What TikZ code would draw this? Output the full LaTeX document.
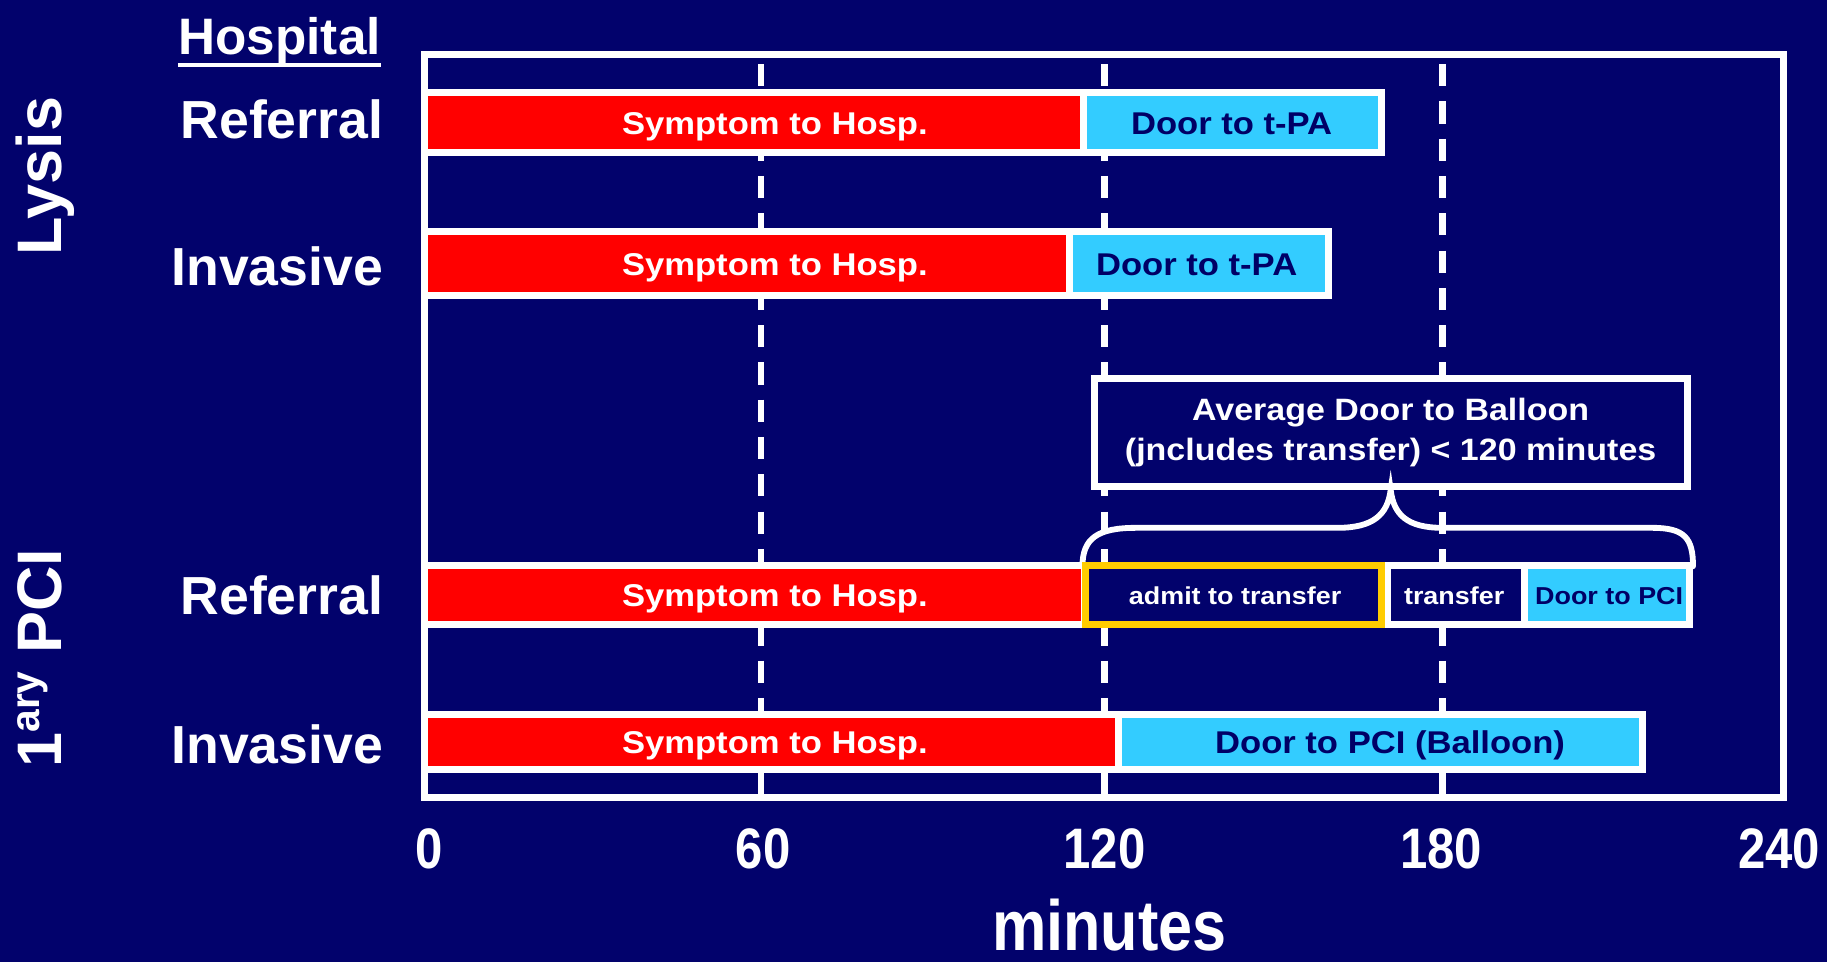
\documentclass[tikz,border=0pt]{standalone}
\usepackage{fontspec}
\setmainfont{Liberation Sans}
\newfontfamily\wideF{Liberation Sans}[FakeStretch=1.1]
\newfontfamily\narrowF{Liberation Sans}[FakeStretch=0.86]
\usetikzlibrary{calc}
\definecolor{bgnavy}{RGB}{2,2,108}
\definecolor{barred}{RGB}{255,0,0}
\definecolor{barcyan}{RGB}{51,204,255}
\definecolor{txtnavy}{RGB}{0,0,102}
\definecolor{hlyellow}{RGB}{255,204,0}
\tikzset{
  seg/.style={draw=white, line width=6pt, inner sep=0pt},
  redseg/.style={seg, fill=barred},
  cyanseg/.style={seg, fill=barcyan},
  navyseg/.style={seg, fill=bgnavy},
  barlab/.style={anchor=base, inner sep=0pt, font=\wideF\bfseries\fontsize{27}{27}\selectfont},
  whitelab/.style={barlab, text=white},
  navylab/.style={barlab, text=txtnavy},
  smalllab/.style={anchor=base, inner sep=0pt, font=\wideF\bfseries\fontsize{21}{21}\selectfont},
  rowlab/.style={anchor=base east, inner sep=0pt, text=white, font=\bfseries\fontsize{46}{46}\selectfont},
  sidelab/.style={rotate=90, anchor=base, inner sep=0pt, text=white, font=\bfseries\fontsize{54}{54}\selectfont},
  ticklab/.style={anchor=base, inner sep=0pt, text=white, font=\narrowF\bfseries\fontsize{49}{49}\selectfont},
  gridline/.style={white, line width=5.5pt, dash pattern=on 19pt off 13pt},
  bracestyle/.style={white, line width=5pt, line cap=round}
}
\begin{document}
\begin{tikzpicture}[x=1pt, y=-1pt]
\fill[bgnavy] (0,0) rectangle (1568,826);
\useasboundingbox (0,0) rectangle (1568,826);

% frame and grid
\draw[white, line width=6pt] (364.5,47) rectangle (1530.5,684.5);
\draw[gridline] (653,55) -- (653,682);
\draw[gridline] (948,55) -- (948,682);
\draw[gridline] (1238,55) -- (1238,682);

% side and row labels
\node[anchor=base, inner sep=0pt, text=white, font=\bfseries\fontsize{44}{44}\selectfont] (hosp) at (240,47) {Hospital};
\draw[white, line width=3.5pt] ($(hosp.base west)+(0,9)$) -- ($(hosp.base east)+(0,9)$);
\node[rowlab] (lref) at (329,118.7) {Referral};
\node[rowlab] (linv) at (329,244.6) {Invasive};
\node[rowlab] (pref) at (329,527.8) {Referral};
\node[rowlab] (pinv) at (329,655) {Invasive};
\node[sidelab] (lysis) at (53,151) {Lysis};
\node[sidelab] (pci) at (53,565) {1\raisebox{19pt}{\fontsize{35}{35}\selectfont ary} PCI};

% annotation box and brace
\node[draw=white, line width=6pt, fill=bgnavy, minimum width=509pt, minimum height=92.5pt, inner sep=0pt,
      align=center, text=white, font=\wideF\bfseries\fontsize{26.5}{34}\selectfont] (abox) at (1193.5,371)
      {Average Door to Balloon\\(jncludes transfer) < 120 minutes};
\coordinate (bl) at (929,486);
\coordinate (br) at (1453,486);
\draw[bracestyle] (bl) .. controls (929,462) and (942,453) .. (975,453) -- (1148,453)
   .. controls (1178,453) and (1191,442) .. (abox.south)
   .. controls (1196,442) and (1208,453) .. (1238,453) -- (1418,453)
   .. controls (1446,453) and (1453,462) .. (br);

% row 1: Lysis referral
\node[redseg, minimum width=565.5pt, minimum height=51pt] (r1a) at (647.25,105) {};
\node[cyanseg, minimum width=256pt, minimum height=51pt] (r1b) at (1058,105) {};
\node[whitelab] (t1a) at (665,115.5) {Symptom to Hosp.};
\node[navylab] (t1b) at (1057,115.5) {Door to t-PA};

% row 2: Lysis invasive
\node[redseg, minimum width=553pt, minimum height=55pt] (r2a) at (641,226.5) {};
\node[cyanseg, minimum width=222.5pt, minimum height=55pt] (r2b) at (1028.75,226.5) {};
\node[whitelab] (t2a) at (665,236.5) {Symptom to Hosp.};
\node[navylab] (t2b) at (1027,236.5) {Door to t-PA};

% row 3: PCI referral
\node[redseg, minimum width=566pt, minimum height=51pt] (r3a) at (647.5,510.5) {};
\node[navyseg, minimum width=118pt, minimum height=51pt] (r3c) at (1249.5,510.5) {};
\node[cyanseg, minimum width=141.5pt, minimum height=51pt] (r3d) at (1379.25,510.5) {};
\node[draw=hlyellow, line width=6pt, fill=bgnavy, inner sep=0pt, minimum width=253.5pt, minimum height=51pt] (r3b) at (1058.75,510.5) {};
\node[whitelab] (t3a) at (665,520.5) {Symptom to Hosp.};
\node[smalllab, text=white] (t3b) at (1060,519) {admit to transfer};
\node[smalllab, text=white] (t3c) at (1248,519) {transfer};
\node[smalllab, text=txtnavy] (t3d) at (1381,519) {Door to PCI};

% row 4: PCI invasive
\node[redseg, minimum width=595.5pt, minimum height=47pt] (r4a) at (662.25,636.5) {};
\node[cyanseg, minimum width=450pt, minimum height=47pt] (r4b) at (1185,636.5) {};
\node[whitelab] (t4a) at (665,646.5) {Symptom to Hosp.};
\node[navylab] (t4b) at (1193,646.5) {Door to PCI (Balloon)};

% axis labels
\node[ticklab] (x0) at (368,745) {0};
\node[ticklab] (x60) at (655,745) {60};
\node[ticklab] (x120) at (948,745) {120};
\node[ticklab] (x180) at (1237,745) {180};
\node[ticklab] (x240) at (1527,745) {240};
\node[anchor=base, inner sep=0pt, text=white, font=\narrowF\bfseries\fontsize{61}{61}\selectfont] (minutes) at (952,816) {minutes};
\end{tikzpicture}
\end{document}
